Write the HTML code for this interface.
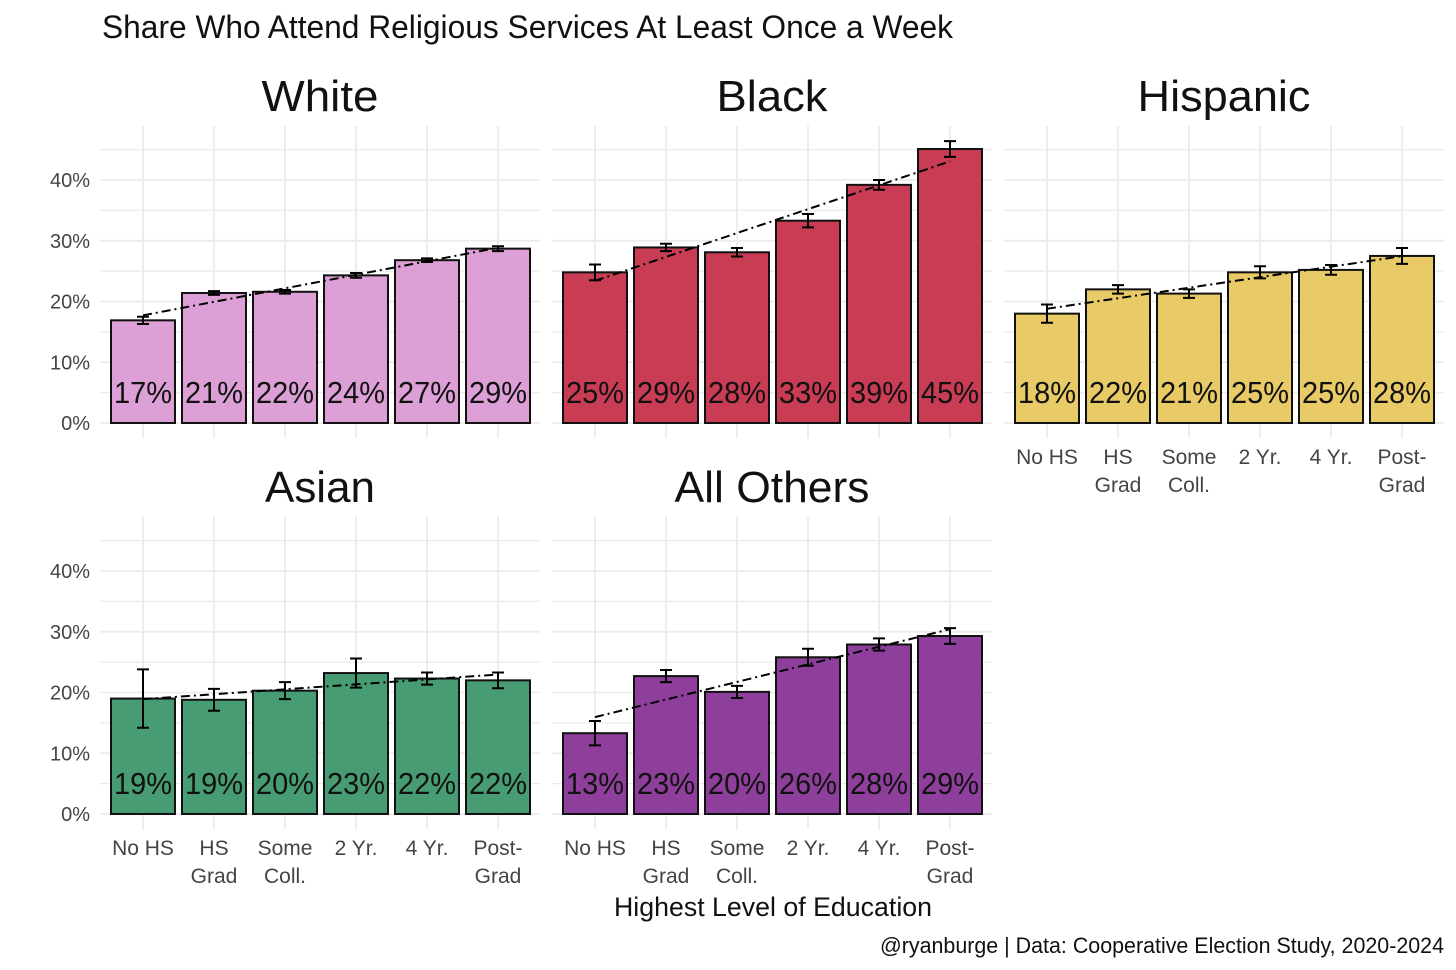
<!DOCTYPE html>
<html><head><meta charset="utf-8"><style>
html,body{margin:0;padding:0;background:#fff;}
svg{display:block;font-family:"Liberation Sans Narrow","Liberation Sans",sans-serif;}
</style></head><body>
<svg id="chart" width="1456" height="970" viewBox="0 0 1456 970">
<text x="102" y="38" font-size="32" fill="#111" textLength="851" lengthAdjust="spacingAndGlyphs">Share Who Attend Religious Services At Least Once a Week</text>
<text x="773" y="916" font-size="27" fill="#111" text-anchor="middle" textLength="318" lengthAdjust="spacingAndGlyphs">Highest Level of Education</text>
<text x="1444" y="953" font-size="22" fill="#111" text-anchor="end" textLength="564" lengthAdjust="spacingAndGlyphs">@ryanburge | Data: Cooperative Election Study, 2020-2024</text>
</svg>
<script>
const categories = ["No HS","HS Grad","Some Coll.","2 Yr.","4 Yr.","Post-Grad"];
const categoryLines = [["No HS"],["HS","Grad"],["Some","Coll."],["2 Yr."],["4 Yr."],["Post-","Grad"]];
const yTicks = [0,10,20,30,40];
const groups = ["White","Black","Hispanic","Asian","All Others"];
const whiteValues = [16.9,21.4,21.6,24.3,26.8,28.7];
const whiteErrors = [0.6,0.3,0.3,0.4,0.3,0.4];
const blackValues = [24.8,28.9,28.1,33.3,39.2,45.1];
const blackErrors = [1.3,0.6,0.7,1.1,0.8,1.3];
const hispanicValues = [18.0,22.0,21.3,24.8,25.2,27.5];
const hispanicErrors = [1.5,0.7,0.7,1.0,0.8,1.3];
const asianValues = [19.0,18.8,20.3,23.2,22.3,22.0];
const asianErrors = [4.8,1.8,1.4,2.4,1.0,1.3];
const othersValues = [13.3,22.7,20.1,25.8,27.9,29.3];
const othersErrors = [2.0,1.0,1.0,1.4,1.0,1.3];

const NS="http://www.w3.org/2000/svg";
const svg=document.getElementById('chart');
function mk(tag,attrs,parent){const e=document.createElementNS(NS,tag);for(const k in attrs)e.setAttribute(k,attrs[k]);(parent||svg).appendChild(e);return e;}

const panels=[
 {name:"White",vals:whiteValues,errs:whiteErrors,color:"#DDA0D6",x0:100,zero:423,yl:true,xl:false,tl:117},
 {name:"Black",vals:blackValues,errs:blackErrors,color:"#C83C54",x0:552,zero:423,yl:false,xl:false,tl:111},
 {name:"Hispanic",vals:hispanicValues,errs:hispanicErrors,color:"#E8CB66",x0:1004,zero:423,yl:false,xl:true,tl:173},
 {name:"Asian",vals:asianValues,errs:asianErrors,color:"#479C74",x0:100,zero:814,yl:true,xl:true,tl:110},
 {name:"All Others",vals:othersValues,errs:othersErrors,color:"#8E3F9B",x0:552,zero:814,yl:false,xl:true,tl:195}
];
const PX=6.075, W=440;
panels.forEach(p=>{
 const g=mk('g',{});
 
 
 const y=v=>p.zero-v*PX;
 const x=i=>p.x0+43+i*71;
 const top=y(48.9), bot=y(-2.5);
 // minor + major gridlines
 for(let v=0;v<=45;v+=5){
  const l=mk('line',{x1:p.x0,x2:p.x0+W,y1:y(v),y2:y(v),stroke:"#ebebeb","stroke-width":v%10?1.2:1.8},g);
  
  
 }
 categories.forEach((c,i)=>{
  const l=mk('line',{x1:x(i),x2:x(i),y1:top,y2:bot,stroke:"#ebebeb","stroke-width":1.8},g);
  
  
 });
 const t=mk('text',{x:p.x0+W/2,y:p.zero-312,"font-size":44,fill:"#111","text-anchor":"middle",textLength:p.tl,lengthAdjust:"spacingAndGlyphs"},g);
 t.textContent=p.name;
 
 
 if(p.yl){yTicks.forEach(v=>{
  const tt=mk('text',{x:90,y:y(v)+7,"font-size":20,fill:"#444","text-anchor":"end"},g);
  tt.textContent=v+"%";
  
  
 });}
 p.vals.forEach((v,i)=>{
  const b=mk('rect',{x:x(i)-32,y:y(v),width:64,height:v*PX,fill:p.color,stroke:"#111","stroke-width":2},g);
  
  
 });
 // regression trend
 const n=p.vals.length,mx=(n-1)/2,my=p.vals.reduce((a,b)=>a+b,0)/n;
 let sxy=0,sxx=0;p.vals.forEach((v,i)=>{sxy+=(i-mx)*(v-my);sxx+=(i-mx)*(i-mx);});
 const s=sxy/sxx,b0=my-s*mx;
 const tl=mk('line',{x1:x(0),y1:y(b0),x2:x(n-1),y2:y(b0+s*(n-1)),stroke:"#000","stroke-width":2,"stroke-dasharray":"9,4,2,4"},g);
 
 
 p.vals.forEach((v,i)=>{
  const e=p.errs[i];
  const eg=mk('path',{d:`M${x(i)-6},${y(v+e)}H${x(i)+6}M${x(i)},${y(v+e)}V${y(v-e)}M${x(i)-6},${y(v-e)}H${x(i)+6}`,stroke:"#000","stroke-width":2,fill:"none"},g);
  
  
  const lb=mk('text',{x:x(i),y:p.zero-20,"font-size":31,fill:"#111","text-anchor":"middle",textLength:58,lengthAdjust:"spacingAndGlyphs"},g);
  lb.textContent=Math.round(v)+"%";
  
  
 });
 if(p.xl){categoryLines.forEach((ls,i)=>{ls.forEach((s2,k)=>{
  const xt=mk('text',{x:x(i),y:p.zero+41+k*28,"font-size":21,fill:"#444","text-anchor":"middle"},g);
  xt.textContent=s2;
  
  
 });});}
});
</script>
</body></html>
